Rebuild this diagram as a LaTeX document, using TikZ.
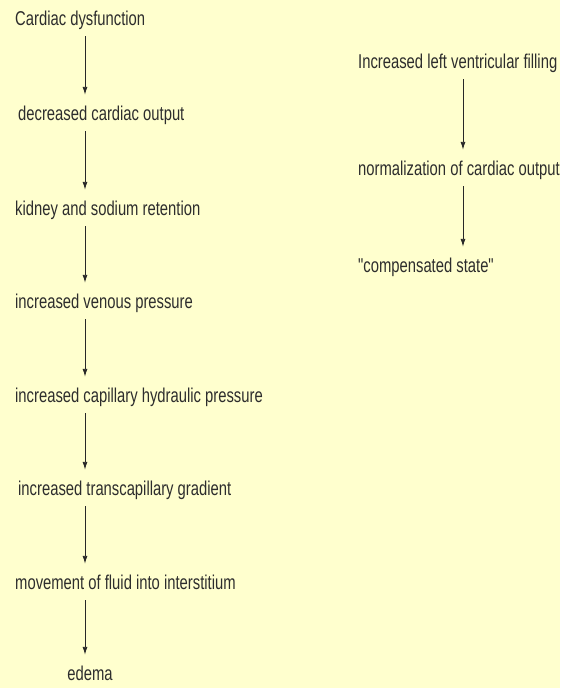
\documentclass[tikz,border=0pt]{standalone}
\usepackage{fontspec}
\setmainfont{Liberation Sans}[FakeStretch=0.74, Ligatures=TeXOff]
\usetikzlibrary{arrows.meta}
\definecolor{bgyellow}{RGB}{255,255,206}
\definecolor{txtgray}{RGB}{45,45,45}
\definecolor{arrgray}{RGB}{40,40,40}
\tikzset{
  lbl/.style={inner sep=0pt, text height=14pt, text depth=4pt, text=txtgray,
              font=\fontsize{20}{22}\selectfont},
  arr/.style={draw=arrgray, line width=0.9pt, shorten <=7pt, shorten >=11pt,
              -{Latex[length=8pt,width=5pt]}}
}
\begin{document}
\begin{tikzpicture}[x=1pt,y=-1pt]
\fill[bgyellow] (0,0) rectangle (560,688);
\useasboundingbox (0,0) rectangle (560,688);
\coordinate (lc) at (85,0);
\coordinate (rc) at (463,0);
% left column
\node[lbl, anchor=west] (a1) at (15,20) {Cardiac dysfunction};
\node[lbl, anchor=west] (a2) at (18,115) {decreased cardiac output};
\node[lbl, anchor=west] (a3) at (15,210) {kidney and sodium retention};
\node[lbl, anchor=west] (a4) at (15,303) {increased venous pressure};
\node[lbl, anchor=west] (a5) at (15,397) {increased capillary hydraulic pressure};
\node[lbl, anchor=west] (a6) at (18,490) {increased transcapillary gradient};
\node[lbl, anchor=west] (a7) at (15,584) {movement of fluid into interstitium};
\node[lbl] (a8) at (90,675) {edema};
\draw[arr] (a1.south -| lc) -- (a2.north -| lc);
\draw[arr] (a2.south -| lc) -- (a3.north -| lc);
\draw[arr] (a3.south -| lc) -- (a4.north -| lc);
\draw[arr] (a4.south -| lc) -- (a5.north -| lc);
\draw[arr] (a5.south -| lc) -- (a6.north -| lc);
\draw[arr] (a6.south -| lc) -- (a7.north -| lc);
\draw[arr] (a7.south -| lc) -- (a8.north -| lc);
% right column
\node[lbl, anchor=west] (b1) at (358,63) {Increased left ventricular filling};
\node[lbl, anchor=west] (b2) at (358,170) {normalization of cardiac output};
\node[lbl, anchor=west] (b3) at (358,267) {"compensated state"};
\draw[arr] (b1.south -| rc) -- (b2.north -| rc);
\draw[arr] (b2.south -| rc) -- (b3.north -| rc);
\end{tikzpicture}
\end{document}
